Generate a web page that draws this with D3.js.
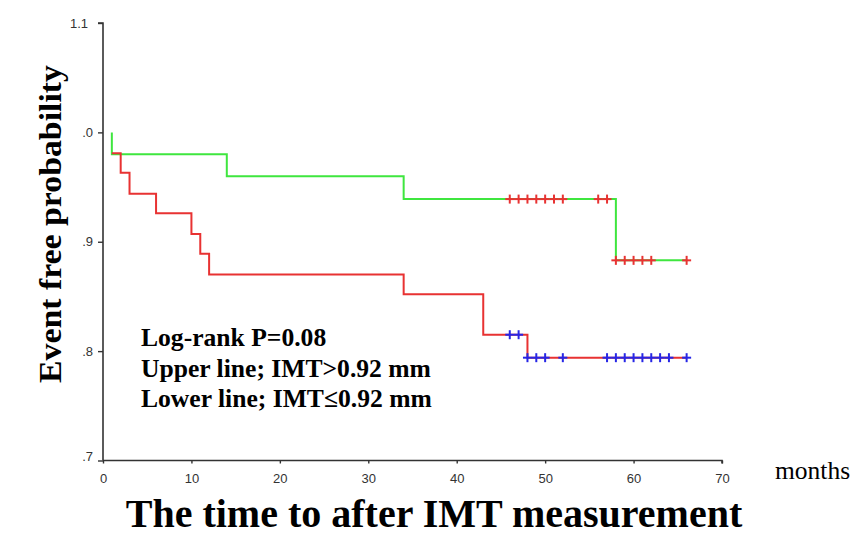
<!DOCTYPE html>
<html>
<head>
<meta charset="utf-8">
<script src="https://cdn.jsdelivr.net/npm/d3@7"></script>
<style>
  body { margin: 0; background: #fff; }
  svg { display: block; }
</style>
</head>
<body>
<svg id="chart" width="864" height="550"></svg>
<script>
// ---- data ----
const xTicks = [0, 10, 20, 30, 40, 50, 60, 70];
const yTicks = [1.1, 1.0, 0.9, 0.8, 0.7];
const yTickLabels = ["1.1", ".0", ".9", ".8", ".7"];

// Upper line (IMT > 0.92 mm) - green
const upperStart = [1, 1.0];
const upperEventTimes = [1, 14, 34, 58];
const upperSurv = [0.98, 0.96, 0.939, 0.883];
const upperEnd = 66;
const upperCensorTimes = [46, 47, 48, 49, 50, 51, 52, 56, 57, 58, 59, 60, 61, 62, 66];

// Lower line (IMT <= 0.92 mm) - red
const lowerStart = [1, 0.981];
const lowerEventTimes = [2, 3, 6, 10, 11, 12, 34, 43, 48];
const lowerSurv = [0.963, 0.944, 0.926, 0.907, 0.889, 0.870, 0.852, 0.815, 0.794];
const lowerEnd = 66;
const lowerCensorTimes = [46, 47, 48, 49, 50, 52, 57, 58, 59, 60, 61, 62, 63, 64, 66];

const annotations = ["Log-rank P=0.08", "Upper line; IMT>0.92 mm", "Lower line; IMT\u22640.92 mm"];

// ---- layout ----
const svg = d3.select("#chart");
const x = d3.scaleLinear().domain([0, 70]).range([103, 722]);
const y = d3.scaleLinear().domain([0.7, 1.1]).range([460.5, 23]);

const greenC = "#3fe63f", redC = "#e83232", blueC = "#2626e6";

// axes
const yAxis = d3.axisLeft(y).tickValues(yTicks).tickSize(5).tickPadding(5)
  .tickFormat((d, i) => yTickLabels[i]);
const xAxis = d3.axisBottom(x).tickValues(xTicks).tickSize(3).tickPadding(10);

const gy = svg.append("g").attr("transform", `translate(${x(0)},0)`).call(yAxis);
const gx = svg.append("g").attr("transform", `translate(0,${y(0.7)})`).call(xAxis);
[gx, gy].forEach(g => {
  g.select(".domain").attr("stroke", "#333").attr("stroke-width", 1.6);
  g.selectAll(".tick line").attr("stroke", "#333").attr("stroke-width", 1.4);
  g.selectAll(".tick text").attr("fill", "#333")
    .style("font-family", "Arial, 'Liberation Sans', sans-serif").style("font-size", "13px");
});
gy.selectAll(".tick text").filter(d => d === 1.1).attr("dx", -5);
gy.selectAll(".tick text").filter(d => d === 0.7).attr("dy", "0.0em");
gy.select(".domain").attr("d", `M-5,${y(1.1)}H0V${y(0.7)}`);
gx.select(".domain").attr("d", `M${x(0)},0H${x(70)}V3`);

// step curve builder
function stepPoints(start, times, surv, end) {
  const pts = [start];
  let cur = start[1];
  times.forEach((t, i) => {
    pts.push([t, cur]);
    pts.push([t, surv[i]]);
    cur = surv[i];
  });
  pts.push([end, cur]);
  return pts;
}
function survAt(times, surv, startVal, t) {
  let v = startVal;
  times.forEach((tt, i) => { if (tt <= t) v = surv[i]; });
  return v;
}

const line = d3.line().x(d => x(d[0])).y(d => y(d[1]));

svg.append("path")
  .datum(stepPoints(upperStart, upperEventTimes, upperSurv, upperEnd))
  .attr("d", line).attr("fill", "none").attr("stroke", greenC).attr("stroke-width", 2);

svg.append("path")
  .datum(stepPoints(lowerStart, lowerEventTimes, lowerSurv, lowerEnd))
  .attr("d", line).attr("fill", "none").attr("stroke", redC).attr("stroke-width", 2);

function censor(times, evTimes, surv, startVal, color) {
  const g = svg.append("g").attr("stroke", color).attr("stroke-width", 2);
  times.forEach(t => {
    const cx = x(t), cy = y(survAt(evTimes, surv, startVal, t));
    g.append("line").attr("x1", cx - 4.5).attr("x2", cx + 4.5).attr("y1", cy).attr("y2", cy);
    g.append("line").attr("x1", cx).attr("x2", cx).attr("y1", cy - 4.5).attr("y2", cy + 4.5);
  });
}
censor(upperCensorTimes, upperEventTimes, upperSurv, upperStart[1], redC);
censor(lowerCensorTimes, lowerEventTimes, lowerSurv, lowerStart[1], blueC);

// annotation
const serif = "'Times New Roman', 'Liberation Serif', serif";
annotations.forEach((txt, i) => {
  svg.append("text").attr("x", 141).attr("y", 346 + i * 30.5)
    .style("font-family", serif).style("font-weight", "bold").style("font-size", "25.6px")
    .attr("fill", "#000").text(txt);
});

// axis titles
svg.append("text")
  .attr("transform", "translate(61,224) rotate(-90)")
  .attr("text-anchor", "middle")
  .style("font-family", serif).style("font-weight", "bold").style("font-size", "32px")
  .attr("textLength", 318).attr("lengthAdjust", "spacingAndGlyphs")
  .text("Event free probability");

svg.append("text")
  .attr("x", 434).attr("y", 527).attr("text-anchor", "middle")
  .style("font-family", serif).style("font-weight", "bold").style("font-size", "40px")
  .text("The time to after IMT measurement");

svg.append("text")
  .attr("x", 775).attr("y", 479)
  .style("font-family", serif).style("font-size", "25.5px")
  .text("months");
</script>
</body>
</html>
